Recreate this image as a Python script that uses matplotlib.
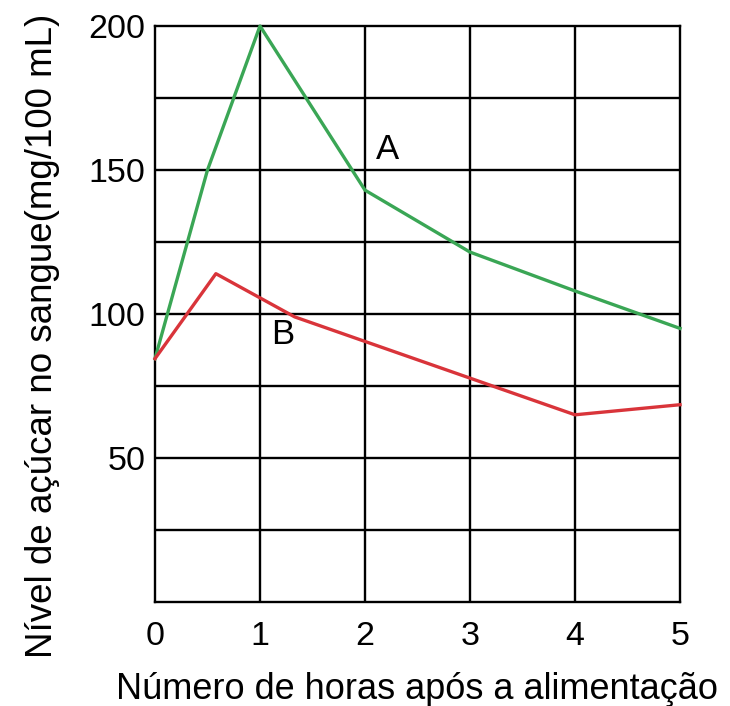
import numpy as np
import matplotlib.pyplot as plt

plt.rcParams['font.family'] = ['Liberation Sans', 'DejaVu Sans']

# curve A (green) and curve B (red)
horas_a = [0, 0.5, 1, 2, 3, 4, 5]
acucar_a = [84.5, 150, 200, 143, 121.5, 108, 95]
horas_b = [0, 0.58, 1.33, 4, 5]
acucar_b = [84.5, 114, 99, 65, 68.5]

xticks = [0, 1, 2, 3, 4, 5]
yticks = [50, 100, 150, 200]
ygrid = [25, 50, 75, 100, 125, 150, 175]

fig = plt.figure(figsize=(7.3, 7.06), dpi=100)
ax = fig.add_axes([155/730, 1-602/706, 525/730, 576/706])

# grid lines
for g in ygrid:
    ax.axhline(g, color='black', lw=1.7, zorder=1)
for g in xticks[1:-1]:
    ax.axvline(g, color='black', lw=1.7, zorder=1)

ax.plot(horas_a, acucar_a, color='#3aa655', lw=2.4, zorder=3, clip_on=False)
ax.plot(horas_b, acucar_b, color='#d9343a', lw=2.4, zorder=3, clip_on=False)

ax.text(2.21, 157, 'A', fontsize=25, ha='center', va='center')
ax.text(1.22, 93, 'B', fontsize=25, ha='center', va='center')

ax.set_xlim(0, 5); ax.set_ylim(0, 200)
ax.set_xticks(xticks); ax.set_yticks(yticks)
ax.tick_params(length=0, labelsize=24.5)
ax.tick_params(axis='x', pad=14)
ax.tick_params(axis='y', pad=7)
for s in ax.spines.values():
    s.set_linewidth(1.7)

ax.set_xlabel('Número de horas após a alimentação', fontsize=26, labelpad=14)
ax.set_ylabel('Nível de açúcar no sangue(mg/100 mL)', fontsize=26.5, va='center')
ax.yaxis.set_label_coords(-0.215, 0.462)

fig.savefig('out.png', dpi=100)
